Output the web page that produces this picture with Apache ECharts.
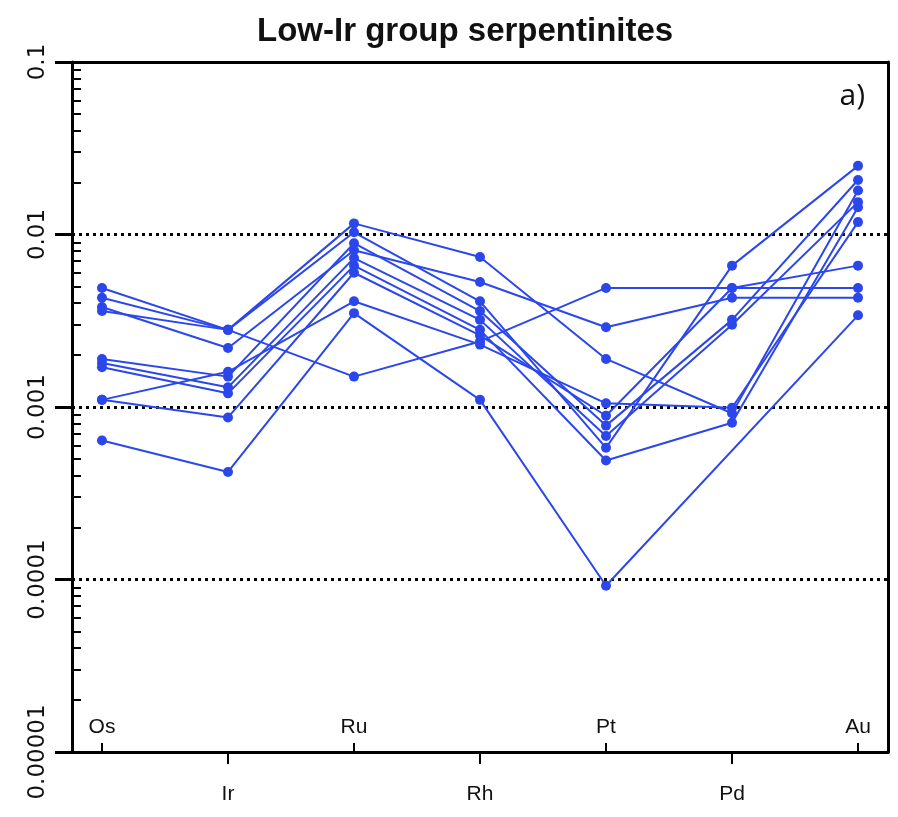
<!DOCTYPE html>
<html>
<head>
<meta charset="utf-8">
<script src="https://cdn.jsdelivr.net/npm/echarts@6/dist/echarts.min.js"></script>
<style>
html,body{margin:0;padding:0;background:#fff;}
#chart{width:898px;height:817px;}
</style>
</head>
<body>
<div id="chart"></div>
<script>
// Categories (elements) and y tick labels
const categories = ['Os', 'Ir', 'Ru', 'Rh', 'Pt', 'Pd', 'Au'];
const yTickLabels = ['0.00001', '0.0001', '0.001', '0.01', '0.1'];

// Sample values (normalized), order: Os, Ir, Ru, Rh, Pt, Pd, Au
const s1  = [0.00064, 0.00042, 0.0035, 0.0011, 0.000092, null, 0.0034];
const s2  = [0.0049, 0.0028, 0.0116, 0.0074, 0.0019, 0.00092, 0.018];
const s3  = [0.0043, 0.0028, 0.0015, 0.0024, 0.0049, 0.0049, 0.0049];
const s4  = [0.0038, 0.0022, 0.0081, 0.0053, 0.0029, 0.0043, 0.0043];
const s5  = [0.0036, 0.0028, 0.0103, 0.0041, 0.00058, 0.0066, 0.025];
const s6  = [0.0019, 0.0015, 0.0089, 0.0036, 0.00078, 0.0032, 0.0207];
const s7  = [0.0018, 0.0013, 0.0073, 0.0032, 0.00068, 0.0030, 0.0154];
const s8  = [0.0017, 0.0012, 0.0066, 0.0028, 0.00049, 0.00081, 0.0144];
const s9  = [0.0011, 0.0016, 0.0041, 0.0023, 0.00105, 0.00099, 0.0118];
const s10 = [0.0011, 0.00087, 0.0060, 0.0026, 0.00089, 0.0049, 0.0066];
const allSeries = [s1, s2, s3, s4, s5, s6, s7, s8, s9, s10];

const BLUE = '#2b47ec';
const FONT = 'Liberation Sans';

const minorTicks = [];
for (let e = -5; e < -1; e++) {
  for (let k = 2; k <= 9; k++) minorTicks.push(e + Math.log10(k));
}

const chart = echarts.init(document.getElementById('chart'), null, {renderer: 'canvas'});

const option = {
  animation: false,
  backgroundColor: '#fff',
  title: [
    {
      text: 'Low-Ir group serpentinites',
      left: 252,
      top: 10,
      textStyle: {fontFamily: FONT, fontWeight: 'bold', fontSize: 33, color: '#111'}
    },
    {
      text: 'a)',
      right: 28,
      top: 76,
      textStyle: {fontFamily: 'Open Sans', fontWeight: 'normal', fontSize: 30, color: '#111'}
    }
  ],
  grid: {left: 72, right: 10, top: 62, bottom: 65},
  xAxis: [
    {
      type: 'value', min: -0.238, max: 6.238, position: 'bottom',
      axisLine: {show: true, onZero: false, lineStyle: {color: '#000', width: 3}},
      axisTick: {show: true, inside: true, length: 9, customValues: [0, 2, 4, 6], lineStyle: {color: '#000', width: 2}},
      axisLabel: {
        show: true, inside: true, margin: 14, customValues: [0, 2, 4, 6],
        formatter: v => categories[Math.round(v)],
        fontFamily: FONT, fontSize: 21, color: '#111'
      },
      splitLine: {show: false}
    },
    {
      type: 'value', min: -0.238, max: 6.238, position: 'bottom',
      axisLine: {show: false, onZero: false},
      axisTick: {show: true, inside: false, length: 12, customValues: [1, 3, 5], lineStyle: {color: '#000', width: 2}},
      axisLabel: {
        show: true, inside: false, margin: 32, customValues: [1, 3, 5],
        formatter: v => categories[Math.round(v)],
        fontFamily: FONT, fontSize: 21, color: '#111'
      },
      splitLine: {show: false}
    },
    {
      type: 'value', min: -0.238, max: 6.238, position: 'top', z: 5,
      axisLine: {show: true, onZero: false, lineStyle: {color: '#000', width: 3}},
      axisTick: {show: false}, axisLabel: {show: false}, splitLine: {show: false}
    }
  ],
  yAxis: [
    {
      type: 'log', logBase: 10, min: 0.00001, max: 0.1, position: 'left',
      axisLine: {show: true, onZero: false, lineStyle: {color: '#000', width: 3}},
      axisTick: {show: true, inside: false, length: 17, lineStyle: {color: '#000', width: 3}},
      axisLabel: {
        show: true, rotate: 90, margin: 22,
        formatter: v => yTickLabels[Math.round(Math.log10(v)) + 5],
        fontFamily: 'DejaVu Sans', fontSize: 23, color: '#111'
      },
      splitLine: {show: true, lineStyle: {color: '#000', width: 3, type: [3, 4]}},
      minorTick: {show: false}
    },
    {
      type: 'value', min: -5, max: -1, position: 'left',
      axisLine: {show: false, onZero: false},
      axisTick: {show: true, inside: true, length: 9, customValues: minorTicks, lineStyle: {color: '#000', width: 2}},
      axisLabel: {show: false},
      splitLine: {show: false}
    },
    {
      type: 'value', min: -5, max: -1, position: 'right', z: 5,
      axisLine: {show: true, onZero: false, lineStyle: {color: '#000', width: 3}},
      axisTick: {show: false}, axisLabel: {show: false}, splitLine: {show: false}
    }
  ],
  series: allSeries.map((arr, idx) => ({
    name: 'S' + (idx + 1),
    type: 'line',
    xAxisIndex: 0,
    yAxisIndex: 0,
    data: arr.map((v, i) => [i, v]).filter(p => p[1] !== null),
    symbol: 'circle',
    symbolSize: 10,
    z: 3,
    lineStyle: {color: BLUE, width: 2},
    itemStyle: {color: BLUE},
    emphasis: {disabled: true}
  }))
};

chart.setOption(option);
</script>
</body>
</html>
